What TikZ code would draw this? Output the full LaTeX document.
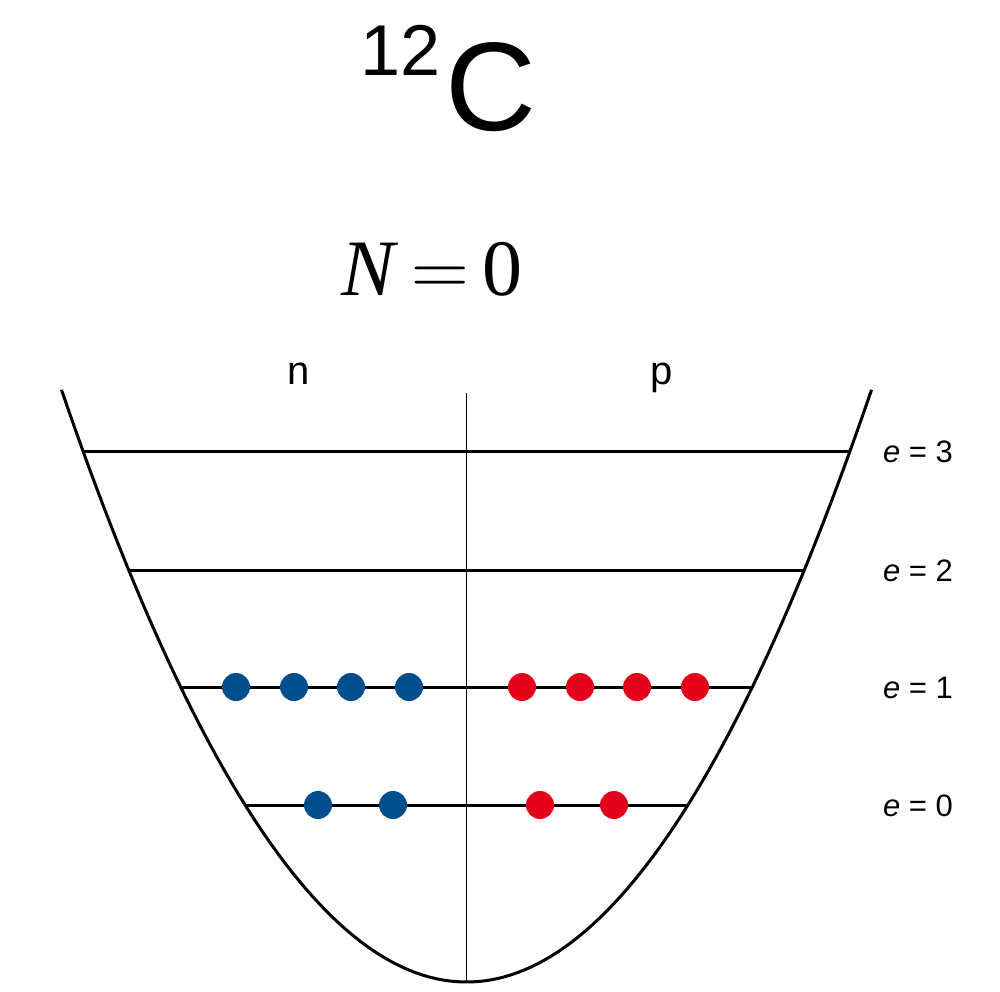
\documentclass[tikz,border=0pt]{standalone}
\usepackage{fix-cm}
\usepackage{fontspec}
\setmainfont{Liberation Sans}
\newfontfamily\serifrm{Liberation Serif}
\usepackage{xcolor}
\usetikzlibrary{positioning,calc}
\definecolor{nblue}{HTML}{004E8C}
\definecolor{pred}{HTML}{E4001B}

\begin{document}
\begin{tikzpicture}[x=0.5pt,y=-0.5pt,
 level/.style={line width=1.5pt},
 wall/.style={line width=1.5pt},
 neutron/.style={circle,fill=nblue,inner sep=0pt,minimum size=14pt},
 proton/.style={circle,fill=pred,inner sep=0pt,minimum size=14pt},
 elabel/.style={font=\fontsize{15.5}{18}\selectfont,anchor=base,inner sep=0pt},
 side/.style={font=\fontsize{20}{24}\selectfont,anchor=base,inner sep=0pt}]
\useasboundingbox (0,0) rectangle (1000,991);
% title
\node[anchor=base west,inner sep=0pt,font=\fontsize{63}{70}\selectfont] (elem) at (445,130) {C};
\node[anchor=base east,inner sep=0pt,font=\fontsize{36}{40}\selectfont] (mass) at (441,75) {12};
\node[anchor=base,inner sep=0pt,font=\fontsize{40}{44}\selectfont\serifrm] (shell) at (432,295) {\textit{N}\,$=$\,0};
% well
\draw[wall] plot[domain=-405:405,samples=120] ({466.5+\x},{982-(\x/16.643)^2});
\coordinate (top) at (466,393);
\coordinate (bottom) at (466,982);
\draw[line width=0.5pt] (top)--(bottom);
\node[side] (n) at (299,384) {n};
\node[side] (p) at (662,384) {p};
% levels
\foreach \lev/\yy in {3/451,2/570,1/687,0/805}{
 \coordinate (L\lev) at ({466.5-16.643*sqrt(982-\yy)},\yy);
 \coordinate (R\lev) at ({466.5+16.643*sqrt(982-\yy)},\yy);
 \draw[level] (L\lev)--(R\lev);
 \node[elabel] (lab\lev) at (918,\yy+11) {\textit{e} = \lev};
}
% nucleons
\foreach \xx [count=\i] in {236,294,351,409}
 \node[neutron] (na\i) at (\xx,687) {};
\foreach \xx [count=\i] in {522,580,637,695}
 \node[proton] (pa\i) at (\xx,687) {};
\foreach \xx [count=\i] in {318,393}
 \node[neutron] (nb\i) at (\xx,805) {};
\foreach \xx [count=\i] in {540,614}
 \node[proton] (pb\i) at (\xx,805) {};
\end{tikzpicture}
\end{document}
